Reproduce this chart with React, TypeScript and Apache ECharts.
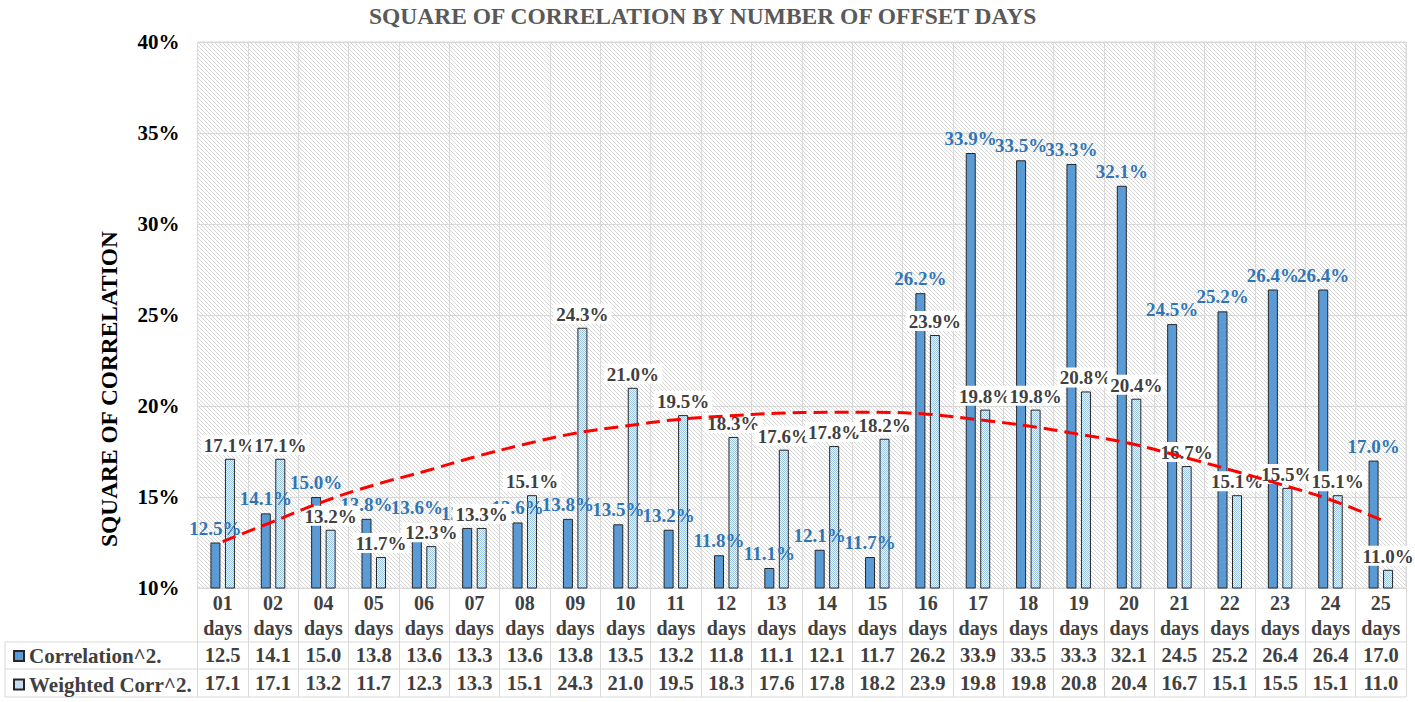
import React, { useEffect, useRef } from 'react';
import * as echarts from 'echarts';

const categories = ['01', '02', '04', '05', '06', '07', '08', '09', '10', '11', '12', '13', '14', '15', '16', '17', '18', '19', '20', '21', '22', '23', '24', '25'];
const correlation = [12.5, 14.1, 15.0, 13.8, 13.6, 13.3, 13.6, 13.8, 13.5, 13.2, 11.8, 11.1, 12.1, 11.7, 26.2, 33.9, 33.5, 33.3, 32.1, 24.5, 25.2, 26.4, 26.4, 17.0];
const weighted = [17.1, 17.1, 13.2, 11.7, 12.3, 13.3, 15.1, 24.3, 21.0, 19.5, 18.3, 17.6, 17.8, 18.2, 23.9, 19.8, 19.8, 20.8, 20.4, 16.7, 15.1, 15.5, 15.1, 11.0];
const trend = [12.55, 13.65, 14.75, 15.65, 16.4, 17.2, 17.9, 18.5, 18.9, 19.25, 19.45, 19.6, 19.65, 19.65, 19.55, 19.25, 18.9, 18.45, 17.95, 17.25, 16.5, 15.7, 14.85, 13.75];
const seriesNames = ['Correlation^2.', 'Weighted Corr^2.'];
const yMin = 10;
const yMax = 40;
const yStep = 5;

const FONT = 'Liberation Serif';

function makeTile(size: number, colorAt: (x: number, y: number) => string) {
  const c = document.createElement('canvas');
  c.width = size;
  c.height = size;
  const ctx = c.getContext('2d')!;
  for (let y = 0; y < size; y++) {
    for (let x = 0; x < size; x++) {
      ctx.fillStyle = colorAt(x, y);
      ctx.fillRect(x, y, 1, 1);
    }
  }
  return c;
}

export default function App() {
  const ref = useRef<HTMLDivElement>(null);
  useEffect(() => {
    if (!ref.current) return;
    const chart = echarts.init(ref.current, null, { renderer: 'svg' });

    const hatch = makeTile(4, (x, y) => ((x - y + 8) % 4 === 0 ? '#D6D6D6' : '#FFFFFF'));
    const dots = makeTile(2, (x, y) => ((x + y) % 2 === 0 ? '#9DC3E6' : '#EEF5FB'));

    const gL = 197.5, gR = 1406, gT = 42, gB = 588;
    const tableLine = '#D9D9D9';

    const option: any = {
      animation: false,
      backgroundColor: '#FFFFFF',
      title: {
        text: 'SQUARE OF CORRELATION BY NUMBER OF OFFSET DAYS',
        left: 364,
        top: -1,
        textStyle: { fontFamily: FONT, fontSize: 23.5, fontWeight: 'bold', color: '#595959' },
      },
      legend: {
        data: seriesNames,
        orient: 'vertical',
        left: 13,
        top: 645.5,
        padding: 0,
        itemWidth: 10,
        itemHeight: 10,
        itemGap: 7.5,
        icon: 'rect',
        textStyle: { fontFamily: FONT, fontSize: 21, fontWeight: 'bold', color: '#404040', lineHeight: 20 },
      },
      grid: {
        left: gL,
        right: 1415 - gR,
        top: gT,
        bottom: 702 - gB,
        show: true,
        backgroundColor: { image: hatch, repeat: 'repeat', imageWidth: 4, imageHeight: 4 },
        borderColor: '#D9D9D9',
        borderWidth: 1,
      },
      xAxis: {
        type: 'category',
        data: categories,
        axisLine: { show: true, lineStyle: { color: '#D9D9D9', width: 1 } },
        axisTick: { show: true, alignWithLabel: false, length: 109, interval: 0, lineStyle: { color: tableLine, width: 1 } },
        splitLine: { show: true, interval: 0, lineStyle: { color: '#D9D9D9', width: 1 } },
        axisLabel: {
          interval: 0,
          margin: 3,
          formatter: (value: string, index: number) =>
            `{c|${value}}\n{d|days}\n{v|${correlation[index].toFixed(1)}}\n{w|${weighted[index].toFixed(1)}}`,
          rich: {
            c: { fontFamily: FONT, fontSize: 20, fontWeight: 'bold', color: '#404040', lineHeight: 24 },
            d: { fontFamily: FONT, fontSize: 20, fontWeight: 'bold', color: '#404040', lineHeight: 26 },
            v: { fontFamily: FONT, fontSize: 20.5, fontWeight: 'bold', color: '#404040', lineHeight: 28 },
            w: { fontFamily: FONT, fontSize: 20.5, fontWeight: 'bold', color: '#404040', lineHeight: 27 },
          },
        },
      },
      yAxis: {
        type: 'value',
        min: yMin,
        max: yMax,
        interval: yStep,
        name: 'SQUARE OF CORRELATION',
        nameLocation: 'middle',
        nameGap: 77,
        nameTextStyle: { fontFamily: FONT, fontSize: 23.4, fontWeight: 'bold', color: '#000000', padding: [0, 148, 0, 0] },
        axisLine: { show: false },
        axisTick: { show: false },
        splitLine: { show: true, lineStyle: { color: '#D9D9D9', width: 1 } },
        axisLabel: {
          formatter: '{value}%',
          margin: 18,
          fontFamily: FONT,
          fontSize: 21,
          fontWeight: 'bold',
          color: '#000000',
        },
      },
      series: [
        {
          name: seriesNames[0],
          type: 'bar',
          data: correlation,
          barWidth: 10,
          barGap: '45%',
          itemStyle: { color: '#5B9BD5', borderColor: '#262626', borderWidth: 1 },
          label: {
            show: true,
            position: 'top',
            distance: 5,
            formatter: (p: any) => `${p.value.toFixed(1)}%`,
            fontFamily: FONT,
            fontSize: 19,
            fontWeight: 'bold',
            color: '#2E75B6',
          },
          z: 2,
        },
        {
          name: seriesNames[1],
          type: 'bar',
          data: weighted,
          barWidth: 10,
          itemStyle: {
            color: { image: dots, repeat: 'repeat', imageWidth: 2, imageHeight: 2 },
            borderColor: '#262626',
            borderWidth: 1,
          },
          label: {
            show: true,
            position: 'top',
            distance: 4,
            formatter: (p: any) => `${p.value.toFixed(1)}%`,
            fontFamily: FONT,
            fontSize: 19,
            fontWeight: 'bold',
            color: '#404040',
            backgroundColor: '#FFFFFF',
            padding: [1, 3, 0, 3],
          },
          z: 2,
        },
        {
          name: 'trend',
          type: 'line',
          data: trend,
          smooth: 0.4,
          symbol: 'none',
          lineStyle: { color: '#FF0000', width: 3, type: [14, 7] },
          z: 3,
          silent: true,
        },
      ],
      graphic: [
        { type: 'line', shape: { x1: 5, y1: 642, x2: gR, y2: 642 }, style: { stroke: tableLine, lineWidth: 1 } },
        { type: 'line', shape: { x1: 5, y1: 669, x2: gR, y2: 669 }, style: { stroke: tableLine, lineWidth: 1 } },
        { type: 'line', shape: { x1: 5, y1: 697, x2: gR, y2: 697 }, style: { stroke: tableLine, lineWidth: 1 } },
        { type: 'line', shape: { x1: 5, y1: 642, x2: 5, y2: 697 }, style: { stroke: tableLine, lineWidth: 1 } },
      ],
    };
    chart.setOption(option);
    return () => chart.dispose();
  }, []);

  return (
    <div
      ref={ref}
      style={{ position: 'fixed', left: 0, top: 0, width: 1415, height: 702, background: '#fff' }}
    />
  );
}
